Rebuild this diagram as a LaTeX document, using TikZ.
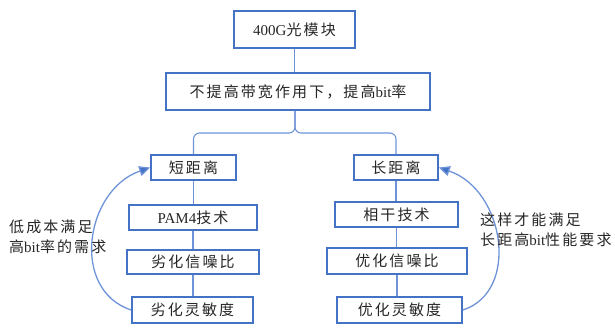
\documentclass[tikz,border=0pt]{standalone}
\usepackage{fontspec}
\setmainfont{Liberation Serif}
\newfontfamily\cjk[LetterSpace=14]{Noto Sans CJK SC}
\usetikzlibrary{arrows.meta}
\definecolor{boxblue}{HTML}{4472C4}
\definecolor{lineblue}{HTML}{6F93D8}
\definecolor{txt}{HTML}{262626}
\newcommand{\lt}[1]{{\rmfamily #1}}
\tikzset{
  box/.style={draw=boxblue, line width=1.6pt, inner sep=0pt, text=txt,
    font=\cjk\fontsize{15}{20}\selectfont},
  conn/.style={draw=lineblue, line width=1.1pt},
  arr/.style={draw=lineblue, line width=1.3pt,
    -{Triangle[length=11pt,width=10pt,fill=boxblue]}},
  lbl/.style={inner sep=0pt, align=left, anchor=west, text=txt,
    font=\cjk\fontsize{15}{20}\selectfont}
}
\begin{document}
\begin{tikzpicture}[x=1pt,y=-1pt]
\useasboundingbox (0,0) rectangle (615,327);
\node[box, minimum width=121pt, minimum height=37pt] (top) at (294.5,29.5) {\lt{400G}光模块};
\node[box, minimum width=264pt, minimum height=37pt] (mid) at (298,91.5) {不提高带宽作用下，提高\lt{bit}率};
% left column
\node[box, minimum width=85pt, minimum height=25pt] (short) at (193.5,167.5) {短距离};
\node[box, minimum width=128pt, minimum height=25pt] (pam) at (193,217.5) {\lt{PAM4}技术};
\node[box, minimum width=132pt, minimum height=24pt] (lsnr) at (193,262) {劣化信噪比};
\node[box, minimum width=121pt, minimum height=26pt] (lsen) at (192.5,310) {劣化灵敏度};
% right column
\node[box, minimum width=84pt, minimum height=25pt] (long) at (396,167.5) {长距离};
\node[box, minimum width=123pt, minimum height=25pt] (coh) at (396.5,214.5) {相干技术};
\node[box, minimum width=140pt, minimum height=26pt] (osnr) at (397,261) {优化信噪比};
\node[box, minimum width=125pt, minimum height=26pt] (osen) at (399.5,310) {优化灵敏度};
% connectors
\draw[conn] (top.south) -- (top.south |- mid.north);
\coordinate (bc) at (295,133);
\draw[conn, rounded corners=6pt] (bc |- mid.south) -- (bc) -- (short.north |- bc) -- (short.north);
\draw[conn, rounded corners=6pt] (bc |- mid.south) -- (bc) -- (long.north |- bc) -- (long.north);
\draw[conn] (short.south) -- (short.south |- pam.north);
\draw[conn] (pam.south) -- (pam.south |- lsnr.north);
\draw[conn] (lsnr.south) -- (lsnr.south |- lsen.north);
\draw[conn] (long.south) -- (long.south |- coh.north);
\draw[conn] (coh.south) -- (coh.south |- osnr.north);
\draw[conn] (osnr.south) -- (osnr.south |- osen.north);
% curved arrows
\draw[arr] (lsen.west) .. controls (70,290) and (85,190) .. (short.west);
\draw[arr] (osen.east) .. controls (520,292) and (505,190) .. (long.east);
% labels
\node[lbl] (ltext) at (9,237) {低成本满足\\高\lt{bit}率的需求};
\node[lbl] (rtext) at (480,230) {这样才能满足\\长距高\lt{bit}性能要求};
\end{tikzpicture}
\end{document}
